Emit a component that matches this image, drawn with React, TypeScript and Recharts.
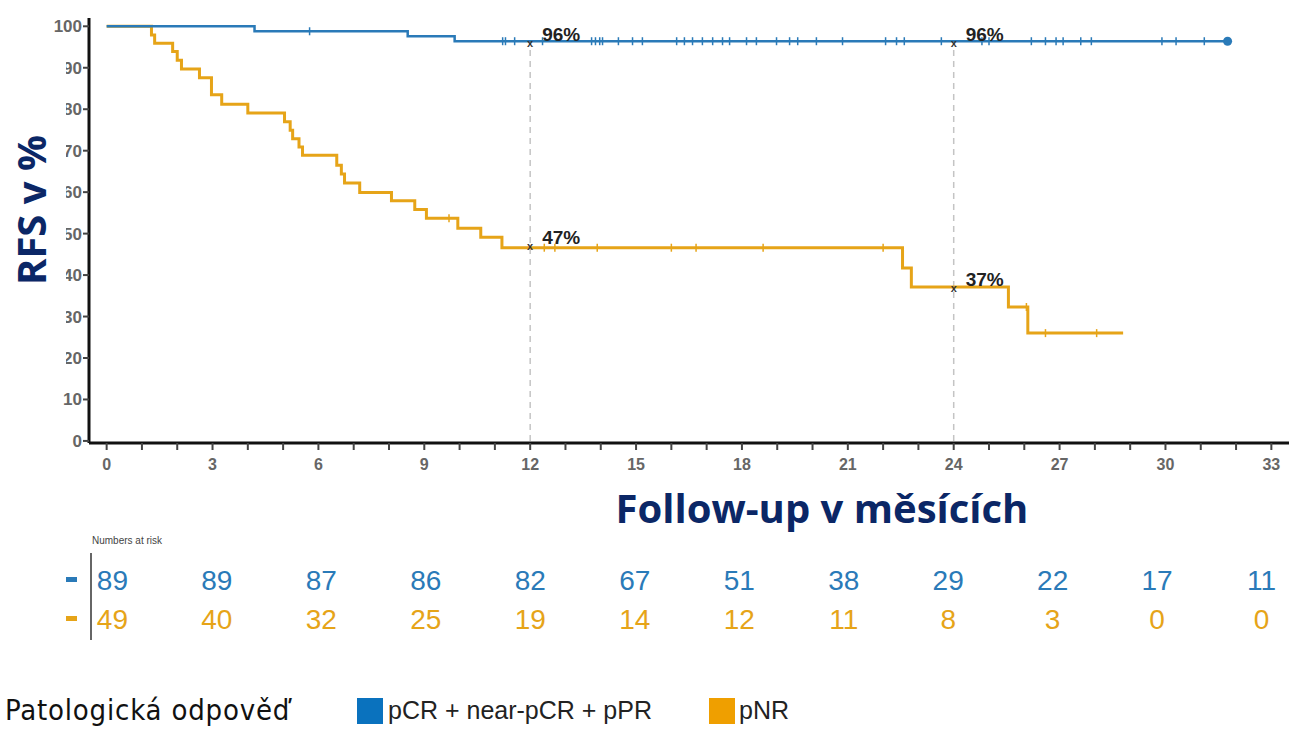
import React from 'react';
import {
  ComposedChart,
  ScatterChart,
  Line,
  Scatter,
  XAxis,
  YAxis,
  ReferenceLine,
} from 'recharts';

const BLUE = '#2a7ab8';
const ORANGE = '#e6a418';
const NAVY = '#0b2766';

// Kaplan-Meier schody: t = měsíce, s = RFS v %
const bluePts = [
  { t: 0, s: 100 },
  { t: 4.19, s: 98.8 },
  { t: 8.53, s: 97.6 },
  { t: 9.86, s: 96.4 },
  { t: 31.76, s: 96.4 },
];

const orangePts = [
  { t: 0, s: 100 },
  { t: 1.27, s: 97.9 },
  { t: 1.36, s: 95.9 },
  { t: 1.87, s: 93.9 },
  { t: 2.0, s: 91.8 },
  { t: 2.12, s: 89.7 },
  { t: 2.63, s: 87.6 },
  { t: 2.97, s: 83.5 },
  { t: 3.26, s: 81.2 },
  { t: 4.0, s: 79.1 },
  { t: 5.04, s: 77.0 },
  { t: 5.2, s: 74.9 },
  { t: 5.27, s: 72.9 },
  { t: 5.45, s: 70.9 },
  { t: 5.55, s: 68.9 },
  { t: 6.52, s: 66.5 },
  { t: 6.65, s: 64.4 },
  { t: 6.74, s: 62.2 },
  { t: 7.17, s: 59.9 },
  { t: 8.07, s: 57.9 },
  { t: 8.73, s: 55.8 },
  { t: 9.06, s: 53.7 },
  { t: 9.95, s: 51.3 },
  { t: 10.6, s: 49.1 },
  { t: 11.2, s: 46.6 },
  { t: 22.55, s: 41.7 },
  { t: 22.8, s: 37.1 },
  { t: 25.55, s: 32.3 },
  { t: 26.1, s: 26.0 },
  { t: 28.8, s: 26.0 },
];

// cenzurovaní pacienti (svislé čárky)
const blueCensorTimes = [
  5.75, 11.22, 11.3, 11.56, 12.35, 13.74, 13.85, 13.97, 14.05, 14.5, 14.9,
  15.18, 16.15, 16.37, 16.6, 16.88, 17.17, 17.45, 17.65, 18.13, 18.41, 18.98,
  19.35, 19.58, 20.11, 20.85, 22.07, 22.38, 22.6, 23.65, 24.8, 25.0, 26.2,
  26.6, 26.9, 27.1, 27.6, 27.9, 29.9, 30.3, 31.1,
];
const orangeCensorTimes = [9.7, 12.4, 12.7, 13.9, 16.0, 16.7, 18.6, 22.0, 26.06, 26.6, 28.05];

const landmarks = [
  { t: 12, s: 96, label: '96%' },
  { t: 24, s: 96, label: '96%' },
  { t: 12, s: 47, label: '47%' },
  { t: 24, s: 37, label: '37%' },
];

const monthTicks = [
  0, 1, 2, 3, 4, 5, 6, 7, 8, 9, 10, 11, 12, 13, 14, 15, 16, 17, 18, 19, 20, 21,
  22, 23, 24, 25, 26, 27, 28, 29, 30, 31, 32, 33,
];
const yTicks = [0, 10, 20, 30, 40, 50, 60, 70, 80, 90, 100];

const riskTimes = [0, 3, 6, 9, 12, 15, 18, 21, 24, 27, 30, 33];
const riskBlue = [89, 89, 87, 86, 82, 67, 51, 38, 29, 22, 17, 11];
const riskOrange = [49, 40, 32, 25, 19, 14, 12, 11, 8, 3, 0, 0];

type Pt = { t: number; s: number };

function valueAt(pts: Pt[], t: number) {
  let v = pts[0].s;
  for (const p of pts) if (p.t <= t) v = p.s;
  return v;
}

const blueCensor = blueCensorTimes.map((t) => ({ t, s: valueAt(bluePts, t) }));
const orangeCensor = orangeCensorTimes.map((t) => ({ t, s: valueAt(orangePts, t) }));
const blueEnd = [bluePts[bluePts.length - 1]];

const riskRows = [
  ...riskTimes.map((t, i) => ({ t, row: 2, n: riskBlue[i], c: BLUE })),
  ...riskTimes.map((t, i) => ({ t, row: 1, n: riskOrange[i], c: ORANGE })),
];

const censorShape = (color: string) => (p: any) => (
  <line x1={p.cx} x2={p.cx} y1={p.cy - 4} y2={p.cy + 4} stroke={color} strokeWidth={1.5} />
);

const landmarkShape = (p: any) => (
  <g>
    <text
      x={p.cx}
      y={p.cy + 4}
      textAnchor="middle"
      fontSize={11}
      fontWeight="bold"
      fill="#333"
      fontFamily="Liberation Sans, Arial"
    >
      x
    </text>
    <text
      x={p.cx + 12}
      y={p.cy - 2}
      fontSize={19}
      fontWeight="bold"
      fill="#222"
      fontFamily="Liberation Sans, Arial"
    >
      {p.payload.label}
    </text>
  </g>
);

const riskShape = (p: any) => (
  <text
    x={p.cx}
    y={p.cy + 10}
    textAnchor="middle"
    fontSize={28}
    fill={p.payload.c}
    fontFamily="Liberation Sans, Arial"
  >
    {p.payload.n}
  </text>
);

export default function App() {
  return (
    <div
      style={{
        position: 'absolute',
        left: 0,
        top: 0,
        width: 1291,
        height: 731,
        background: '#fff',
        fontFamily: 'Liberation Sans, Arial, sans-serif',
        overflow: 'hidden',
      }}
    >
      <div style={{ position: 'absolute', left: 0, top: 0 }}>
        <ComposedChart width={1291} height={475} margin={{ top: 18, right: 2, left: 0, bottom: 0 }}>
          <XAxis
            type="number"
            dataKey="t"
            domain={[-0.5, 33.5]}
            ticks={monthTicks}
            interval={0}
            tickFormatter={(v: number) => (v % 3 === 0 ? String(v) : '')}
            height={32}
            tickSize={7}
            tickMargin={9}
            tick={{ fill: '#666', fontSize: 16, fontWeight: 'bold' }}
            tickLine={{ stroke: '#444', strokeWidth: 2 }}
            axisLine={{ stroke: '#111', strokeWidth: 3 }}
          />
          <YAxis
            type="number"
            dataKey="s"
            domain={[-0.5, 102]}
            ticks={yTicks}
            interval={0}
            width={89}
            tickSize={6}
            tickMargin={1}
            tick={{ fill: '#666', fontSize: 17, fontWeight: 'bold' }}
            tickLine={{ stroke: '#444', strokeWidth: 2 }}
            axisLine={{ stroke: '#111', strokeWidth: 3 }}
          />
          <ReferenceLine
            segment={[{ x: 12, y: 0 }, { x: 12, y: 96 }]}
            stroke="#c4c4c4"
            strokeWidth={1.5}
            strokeDasharray="6 5"
          />
          <ReferenceLine
            segment={[{ x: 24, y: 0 }, { x: 24, y: 96 }]}
            stroke="#c4c4c4"
            strokeWidth={1.5}
            strokeDasharray="6 5"
          />
          <Line
            data={orangePts}
            dataKey="s"
            type="stepAfter"
            stroke={ORANGE}
            strokeWidth={3}
            dot={false}
            isAnimationActive={false}
          />
          <Line
            data={bluePts}
            dataKey="s"
            type="stepAfter"
            stroke={BLUE}
            strokeWidth={2.5}
            dot={false}
            isAnimationActive={false}
          />
          <Scatter data={orangeCensor} dataKey="s" shape={censorShape(ORANGE)} isAnimationActive={false} />
          <Scatter data={blueCensor} dataKey="s" shape={censorShape(BLUE)} isAnimationActive={false} />
          <Scatter data={blueEnd} dataKey="s" fill={BLUE} shape="circle" isAnimationActive={false} />
          <Scatter data={landmarks} dataKey="s" shape={landmarkShape} isAnimationActive={false} />
        </ComposedChart>
      </div>

      {/* bílý pruh přes levé číslice osy Y jako v originálu */}
      <div style={{ position: 'absolute', left: 0, top: 50, width: 66, height: 325, background: '#fff' }} />
      <div
        style={{
          position: 'absolute',
          left: 31,
          top: 210,
          transform: 'translate(-50%, -50%) rotate(-90deg)',
          whiteSpace: 'nowrap',
          fontFamily: 'Open Sans, sans-serif',
          fontWeight: 'bold',
          fontSize: 40,
          lineHeight: '40px',
          color: NAVY,
        }}
      >
        RFS v %
      </div>

      <div
        style={{
          position: 'absolute',
          left: 822,
          top: 488,
          transform: 'translateX(-50%)',
          whiteSpace: 'nowrap',
          fontFamily: 'Open Sans, sans-serif',
          fontWeight: 'bold',
          fontSize: 40,
          lineHeight: '40px',
          color: NAVY,
        }}
      >
        Follow-up v měsících
      </div>

      {/* Numbers at risk */}
      <div style={{ position: 'absolute', left: 92, top: 535, fontSize: 10, color: '#444' }}>
        Numbers at risk
      </div>
      <div style={{ position: 'absolute', left: 90, top: 553, width: 1.5, height: 87, background: '#666' }} />
      <div style={{ position: 'absolute', left: 66, top: 577, width: 11, height: 5, background: BLUE }} />
      <div style={{ position: 'absolute', left: 66, top: 616, width: 11, height: 5, background: ORANGE }} />
      <div style={{ position: 'absolute', left: 0, top: 541 }}>
        <ScatterChart width={1291} height={117} margin={{ top: 0, right: 12, left: 95, bottom: 0 }}>
          <XAxis type="number" dataKey="t" domain={[-0.5, 33.5]} hide />
          <YAxis type="number" dataKey="row" domain={[0, 3]} hide />
          <Scatter data={riskRows} dataKey="row" shape={riskShape} isAnimationActive={false} />
        </ScatterChart>
      </div>

      {/* legenda */}
      <div
        style={{
          position: 'absolute',
          left: 5,
          top: 694,
          fontFamily: 'DejaVu Sans Condensed, DejaVu Sans, sans-serif',
          fontSize: 29,
          letterSpacing: 0.8,
          lineHeight: '32px',
          color: '#111',
          whiteSpace: 'nowrap',
        }}
      >
        Patologická odpověď
      </div>
      <div style={{ position: 'absolute', left: 357, top: 698, width: 26, height: 26, background: '#0a72be' }} />
      <div
        style={{
          position: 'absolute',
          left: 388,
          top: 696,
          fontSize: 25,
          lineHeight: '28px',
          color: '#222',
          whiteSpace: 'nowrap',
        }}
      >
        pCR + near-pCR + pPR
      </div>
      <div style={{ position: 'absolute', left: 709, top: 698, width: 26, height: 26, background: '#ef9f00' }} />
      <div
        style={{
          position: 'absolute',
          left: 739,
          top: 696,
          fontSize: 25,
          lineHeight: '28px',
          color: '#222',
          whiteSpace: 'nowrap',
        }}
      >
        pNR
      </div>
    </div>
  );
}
